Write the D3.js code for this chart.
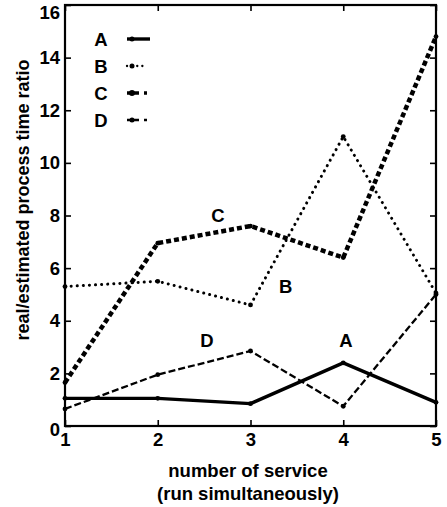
<!DOCTYPE html>
<html><head><meta charset="utf-8">
<script src="https://cdn.jsdelivr.net/npm/d3@7"></script>
<style>body{margin:0;background:#fff}svg{display:block}</style>
</head><body>
<script>
const xValues = [1, 2, 3, 4, 5];
const seriesNames = ["A", "B", "C", "D"];
const valuesA = [1.05, 1.05, 0.85, 2.4, 0.9];
const valuesB = [5.3, 5.5, 4.6, 11.0, 5.05];
const valuesC = [1.65, 6.95, 7.6, 6.4, 14.8];
const valuesD = [0.65, 1.95, 2.85, 0.75, 5.0];
const yTicks = [0, 2, 4, 6, 8, 10, 12, 14, 16];
const xTicks = [1, 2, 3, 4, 5];
const xTitle = ["number of service", "(run simultaneously)"];
const yTitle = "real/estimated process time ratio";
const inlineLabels = [
  {s: "C", x: 2.65, y: 7.75},
  {s: "B", x: 3.38, y: 5.05},
  {s: "D", x: 2.53, y: 3.0},
  {s: "A", x: 4.03, y: 3.0}
];

const W = 447, H = 507;
const m = {l: 65, r: 11, t: 5, b: 81};
const FONT = "'Liberation Sans', Arial, Helvetica, sans-serif";
const svg = d3.select("body").append("svg").attr("width", W).attr("height", H)
  .style("font-family", FONT).style("font-weight", "bold");

const x = d3.scaleLinear().domain([1, 5]).range([m.l, W - m.r]);
const y = d3.scaleLinear().domain([0, 16]).range([H - m.b, m.t]);

const styles = {
  A: {w: 3.4, dash: null, cap: "butt"},
  B: {w: 3, dash: "0.1,6", cap: "round"},
  C: {w: 4.5, dash: "5,3", cap: "butt"},
  D: {w: 2.3, dash: "7,3", cap: "butt"}
};
const data = {A: valuesA, B: valuesB, C: valuesC, D: valuesD};

// frame
svg.append("rect").attr("x", m.l).attr("y", m.t).attr("width", W - m.r - m.l).attr("height", H - m.b - m.t)
  .attr("fill", "none").attr("stroke", "#000").attr("stroke-width", 2.2);

const tl = 6;
const gL = svg.append("g").attr("transform", `translate(${m.l},0)`)
  .call(d3.axisLeft(y).tickValues(yTicks).tickSize(-tl).tickPadding(5));
const gR = svg.append("g").attr("transform", `translate(${W - m.r},0)`)
  .call(d3.axisRight(y).tickValues(yTicks).tickSize(-tl).tickFormat(""));
const gB = svg.append("g").attr("transform", `translate(0,${H - m.b})`)
  .call(d3.axisBottom(x).tickValues(xTicks).tickSize(-tl).tickPadding(7).tickFormat(d3.format("d")));
const gT = svg.append("g").attr("transform", `translate(0,${m.t})`)
  .call(d3.axisTop(x).tickValues(xTicks).tickSize(-tl).tickFormat(""));
[gL, gR, gB, gT].forEach(g => {
  g.select(".domain").remove();
  g.selectAll("line").attr("stroke-width", 1.6);
  g.selectAll("text").attr("font-size", 18.5).attr("font-weight", "bold").attr("font-family", FONT).attr("fill", "#000");
});
gL.selectAll(".tick text").filter(d => d === 16).attr("dy", "0.75em");
gL.selectAll(".tick text").filter(d => d === 0).attr("dy", "0.5em");

// lines
const line = d3.line().x((d, i) => x(xValues[i])).y(d => y(d));
seriesNames.forEach(s => {
  const st = styles[s];
  svg.append("path").datum(data[s]).attr("d", line).attr("fill", "none")
    .attr("stroke", "#000").attr("stroke-width", st.w)
    .attr("stroke-dasharray", st.dash).attr("stroke-linecap", st.cap).attr("stroke-linejoin", "round");
  svg.append("g").selectAll("circle").data(data[s]).join("circle")
    .attr("cx", (d, i) => x(xValues[i])).attr("cy", d => y(d)).attr("r", 2.4).attr("fill", "#000");
});

// inline labels
svg.append("g").selectAll("text").data(inlineLabels).join("text")
  .attr("x", d => x(d.x)).attr("y", d => y(d.y)).attr("text-anchor", "middle")
  .attr("font-size", 18.5).text(d => d.s);

// legend
const lg = svg.append("g");
seriesNames.forEach((s, i) => {
  const yy = 39 + i * 27;
  lg.append("text").attr("x", 101).attr("y", yy + 6.5).attr("text-anchor", "middle").attr("font-size", 18.5).text(s);
  const st = styles[s];
  let dash = null;
  if (s === "B") dash = "0.1,5";
  else if (s === "C" || s === "D") dash = "12,5";
  lg.append("line").attr("x1", 127).attr("x2", s === "A" ? 150 : 147).attr("y1", yy).attr("y2", yy)
    .attr("stroke", "#000").attr("stroke-width", s === "A" ? 3.4 : (s === "C" ? 3.5 : 2.3)).attr("stroke-dasharray", dash)
    .attr("stroke-linecap", st.cap);
  lg.append("circle").attr("cx", 132).attr("cy", yy).attr("r", s === "C" ? 3 : 2.5).attr("fill", "#000");
});

// axis titles
svg.append("text").attr("transform", `translate(29,200) rotate(-90)`)
  .attr("text-anchor", "middle").attr("font-size", 18).text(yTitle);
svg.append("text").attr("x", 248).attr("y", 477).attr("text-anchor", "middle")
  .attr("font-size", 18.5).text(xTitle[0]);
svg.append("text").attr("x", 248).attr("y", 500).attr("text-anchor", "middle")
  .attr("font-size", 18.5).text(xTitle[1]);
</script>
</body></html>
